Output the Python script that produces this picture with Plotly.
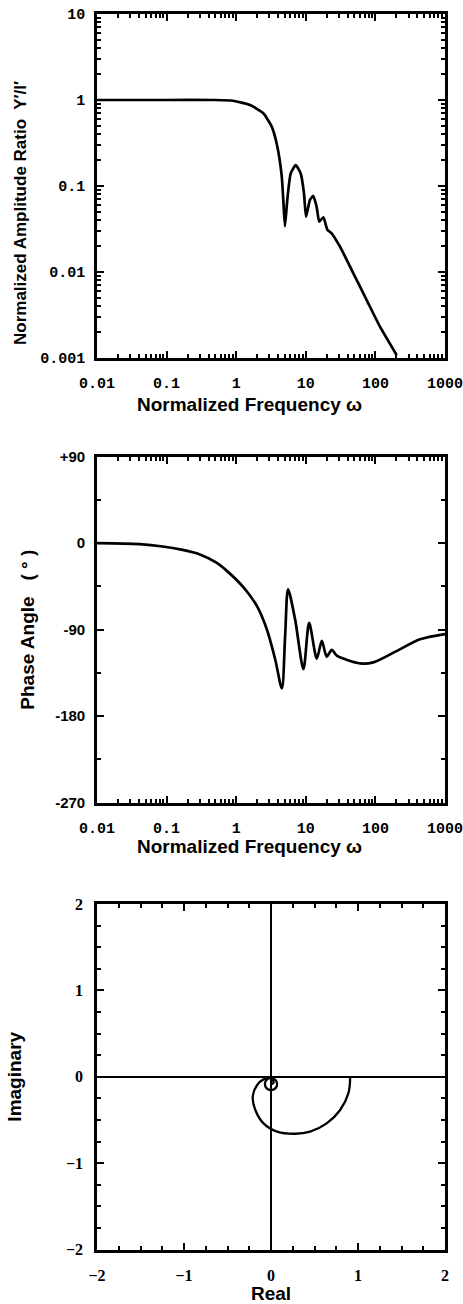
import plotly.graph_objects as go

# ---------------- data ----------------
# Amplitude ratio vs normalized frequency
amp_freq = [0.01, 0.1, 0.5, 0.9, 1.58, 2.45, 3.24, 3.89, 4.51, 4.75, 5.01, 5.42, 6.07,
            7.16, 8.45, 9.42, 10.07, 11.48, 12.8, 14.3, 15.6, 17.9, 20.4, 23.5, 31.0,
            48.2, 75.0, 116.4, 202.0]
amp_ratio = [1.0, 1.0, 1.0, 0.98, 0.875, 0.70, 0.49, 0.29, 0.13, 0.069, 0.034, 0.069, 0.14,
             0.175, 0.14, 0.082, 0.044, 0.069, 0.0766, 0.0575, 0.0385, 0.0433, 0.031, 0.0282,
             0.0197, 0.00966, 0.00472, 0.00231, 0.00108]

# Phase angle vs normalized frequency
phase_freq = [0.01, 0.0407, 0.0877, 0.17, 0.295, 0.513, 0.735, 1.274, 1.98, 2.75, 3.63, 4.53,
              5.05, 5.56, 7.01, 9.25, 11.17, 14.39, 17.0, 19.95, 23.6, 27.9, 60.3, 93.3,
              204.0, 437.0, 1000.0]
phase_deg = [0, -1, -3.4, -7, -11.4, -20, -28.8, -46, -65.3, -89.5, -120.7, -151, -96, -48,
             -79, -131, -83, -120, -101.6, -118, -111, -117, -125, -124, -112, -100, -94.5]

# Nyquist (complex plane) locus
nyq_real = [0.91, 0.89, 0.795, 0.64, 0.45, 0.28, 0.07, -0.086, -0.18, -0.21, -0.16, -0.086,
            0.0, 0.05, 0.07, 0.05, 0.0, -0.05, -0.07, -0.05, 0.0, 0.03, 0.0]
nyq_imag = [0.0, -0.19, -0.385, -0.54, -0.635, -0.66, -0.635, -0.54, -0.385, -0.23, -0.096,
            -0.03, -0.015, -0.035, -0.084, -0.135, -0.155, -0.135, -0.084, -0.035, -0.015,
            -0.07, -0.09]

freq_ticks = [0.01, 0.1, 1, 10, 100, 1000]
freq_ticktext = ["0.01", "0.1", "1", "10", "100", "1000"]
amp_ticks = [0.001, 0.01, 0.1, 1, 10]
amp_ticktext = ["0.001", "0.01", "0.1", "1", "10"]
phase_ticks = [90, 0, -90, -180, -270]
phase_ticktext = ["+90", "0", "-90", "-180", "-270"]
cplx_ticks = [-2, -1, 0, 1, 2]
cplx_ticktext = ["−2", "−1", "0", "1", "2"]

# ---------------- figure ----------------
W, H = 463, 1304
LINE = dict(color="black", width=2.7)

fig = go.Figure()
fig.add_trace(go.Scatter(x=amp_freq, y=amp_ratio, mode="lines",
                         line=dict(**LINE, shape="spline", smoothing=0.5),
                         xaxis="x", yaxis="y", showlegend=False, hoverinfo="skip"))
fig.add_trace(go.Scatter(x=phase_freq, y=phase_deg, mode="lines",
                         line=dict(**LINE, shape="spline", smoothing=0.8),
                         xaxis="x2", yaxis="y2", showlegend=False, hoverinfo="skip"))
fig.add_trace(go.Scatter(x=nyq_real, y=nyq_imag, mode="lines",
                         line=dict(color="black", width=2.3, shape="spline", smoothing=1.0),
                         xaxis="x3", yaxis="y3", showlegend=False, hoverinfo="skip"))


def px_x(p):
    return p / W


def px_y(p):
    return 1 - p / H


mono = dict(family="Liberation Mono", size=15, color="black", weight="bold")
sans = dict(family="Liberation Sans", size=15, color="black", weight="bold")
serif = dict(family="Liberation Serif", size=16, color="black", weight="bold")
title_font = dict(family="Liberation Sans", size=19, color="black", weight="bold")
ytitle_font = dict(family="Liberation Sans", size=17, color="black", weight="bold")

common = dict(showline=True, linecolor="black", linewidth=2.6, mirror="ticks",
              ticks="inside", ticklen=7, tickwidth=2, tickcolor="black",
              showgrid=False, zeroline=False, automargin=False)


def minor(dt):
    return dict(ticks="inside", ticklen=4, tickwidth=1.5, tickcolor="black", dtick=dt, showgrid=False)


xd = [px_x(97), px_x(445)]
NB = "\u00a0"


def title_ann(text, x, y, font, angle=0):
    return dict(text=text, font=font, textangle=angle, xref="paper", yref="paper",
                x=px_x(x), y=px_y(y), xanchor="center", yanchor="middle", showarrow=False)


fig.update_layout(
    width=W, height=H, margin=dict(l=0, r=0, t=0, b=0),
    paper_bgcolor="white", plot_bgcolor="white",
    xaxis=dict(domain=xd, anchor="y", type="log", range=[-2, 3],
               tickvals=freq_ticks, ticktext=freq_ticktext, tickfont=mono,
               ticklabelstandoff=9, ticklabeloverflow="allow", minor=minor("D1"),
               **common),
    yaxis=dict(domain=[px_y(358), px_y(14)], anchor="x", type="log", range=[-3, 1],
               tickvals=amp_ticks, ticktext=amp_ticktext, tickfont=mono,
               ticklabelstandoff=6, ticklabeloverflow="allow", minor=minor("D1"),
               **common),
    xaxis2=dict(domain=xd, anchor="y2", type="log", range=[-2, 3],
                tickvals=freq_ticks, ticktext=freq_ticktext, tickfont=mono,
                ticklabelstandoff=9, ticklabeloverflow="allow", minor=minor("D1"),
                **common),
    yaxis2=dict(domain=[px_y(802.7), px_y(456.7)], anchor="x2", range=[-270, 90],
                tickvals=phase_ticks, ticktext=phase_ticktext, tickfont=sans,
                ticklabelstandoff=6, ticklabeloverflow="allow", minor=minor(45),
                title=dict(text=NB * 3 + "Phase Angle   ( ° )", font=title_font, standoff=16),
                **common),
    xaxis3=dict(domain=xd, anchor="y3", range=[-2, 2],
                tickvals=cplx_ticks, ticktext=cplx_ticktext, tickfont=serif,
                ticklabelstandoff=9, ticklabeloverflow="allow", minor=minor(0.25),
                title=dict(text="Real", font=title_font, standoff=2),
                **{**common, "zeroline": True, "zerolinecolor": "black", "zerolinewidth": 1.8}),
    yaxis3=dict(domain=[px_y(1249.5), px_y(904)], anchor="x3", range=[-2, 2],
                tickvals=cplx_ticks, ticktext=cplx_ticktext, tickfont=serif,
                ticklabelstandoff=8, ticklabeloverflow="allow", minor=minor(0.25),
                title=dict(text="Imaginary", font=title_font, standoff=40),
                **{**common, "zeroline": True, "zerolinecolor": "black", "zerolinewidth": 2.2}),
    annotations=[
        title_ann("Normalized Amplitude Ratio  Y′/I′", 20, 213, ytitle_font, -90),
        title_ann("Normalized Frequency ω", 250, 405, title_font),
        title_ann("Normalized Frequency ω", 250, 846, title_font),
    ],
)

fig.write_html("out.html", config={"displayModeBar": False},
               post_script="document.body.style.margin='0';document.body.style.overflow='hidden';")
